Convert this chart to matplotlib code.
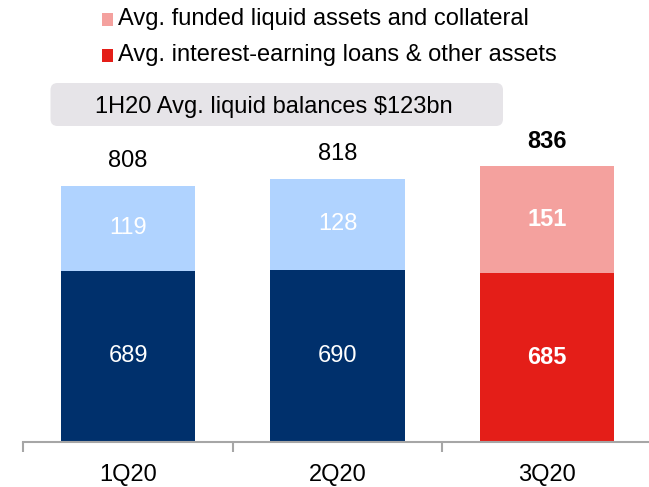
import numpy as np
import matplotlib
matplotlib.use("Agg")
import matplotlib.pyplot as plt
from matplotlib.patches import Rectangle, FancyBboxPatch

plt.rcParams['font.family'] = ['Liberation Sans', 'DejaVu Sans']

# data
quarters = ['1Q20', '2Q20', '3Q20']
loans = [689, 690, 685]          # avg. interest-earning loans & other assets
liquid = [119, 128, 151]         # avg. funded liquid assets and collateral
totals = [808, 818, 836]
legend_labels = ['Avg. funded liquid assets and collateral',
                 'Avg. interest-earning loans & other assets']
box_text = '1H20 Avg. liquid balances $123bn'

navy = '#00306C'
light_blue = '#B0D3FF'
red = '#E41E18'
pink = '#F4A19E'
axis_grey = '#A6A6A6'

fig = plt.figure(figsize=(6.49, 4.87), dpi=100)
ax = fig.add_axes([23.3 / 649, 45 / 487, 1 - 23.3 / 649, 442 / 487])

x = np.arange(len(quarters))
bottom_cols = [navy, navy, red]
top_cols = [light_blue, light_blue, pink]
ax.bar(x, loans, width=0.64, color=bottom_cols, zorder=2)
ax.bar(x, liquid, width=0.64, bottom=loans, color=top_cols, zorder=2)

ax.set_xlim(-0.5, 2.487)
ax.set_ylim(449, 449 + 442 / 0.714)

fs = 17
for i in range(len(quarters)):
    bold = 'bold' if i == 2 else 'normal'
    ax.text(x[i], (449 + loans[i]) / 2, str(loans[i]), ha='center', va='center',
            color='white', fontsize=fs, fontweight=bold)
    ax.text(x[i], loans[i] + liquid[i] / 2, str(liquid[i]), ha='center', va='center',
            color='white', fontsize=fs, fontweight=bold)
    ax.annotate(str(totals[i]), (x[i], totals[i]), xytext=(0, 17.5),
                textcoords='offset points', ha='center', va='center',
                color='black', fontsize=fs, fontweight=bold)

for s in ['top', 'right', 'left']:
    ax.spines[s].set_visible(False)
ax.spines['bottom'].set_color(axis_grey)
ax.spines['bottom'].set_linewidth(1.5)
ax.set_yticks([])
ax.set_xticks(x)
ax.set_xticklabels(quarters, fontsize=fs)
ax.tick_params(axis='x', which='major', length=0, pad=16)
ax.set_xticks([-0.5, 0.5, 1.5], minor=True)
ax.tick_params(axis='x', which='minor', length=7, width=1.5, color=axis_grey)

# legend
tr = fig.dpi_scale_trans
leg_cols = [pink, red]
for j, (lab, col) in enumerate(zip(legend_labels, leg_cols)):
    yc = (487 - (19.5 + 36 * j)) / 100
    fig.patches.append(Rectangle((1.017, yc - 0.062), 0.11, 0.125, transform=tr,
                                 facecolor=col, edgecolor='none'))
    fig.text(1.185, yc, lab, transform=tr, ha='left', va='center', fontsize=fs)

# grey box
fig.patches.append(FancyBboxPatch((0.505, 3.61), 4.525, 0.43, transform=tr,
                                  boxstyle='round,pad=0,rounding_size=0.07',
                                  facecolor='#E6E4E8', edgecolor='none'))
fig.text(0.95, 3.80, box_text, transform=tr, ha='left', va='center', fontsize=fs)

fig.savefig('out.png', dpi=100)
